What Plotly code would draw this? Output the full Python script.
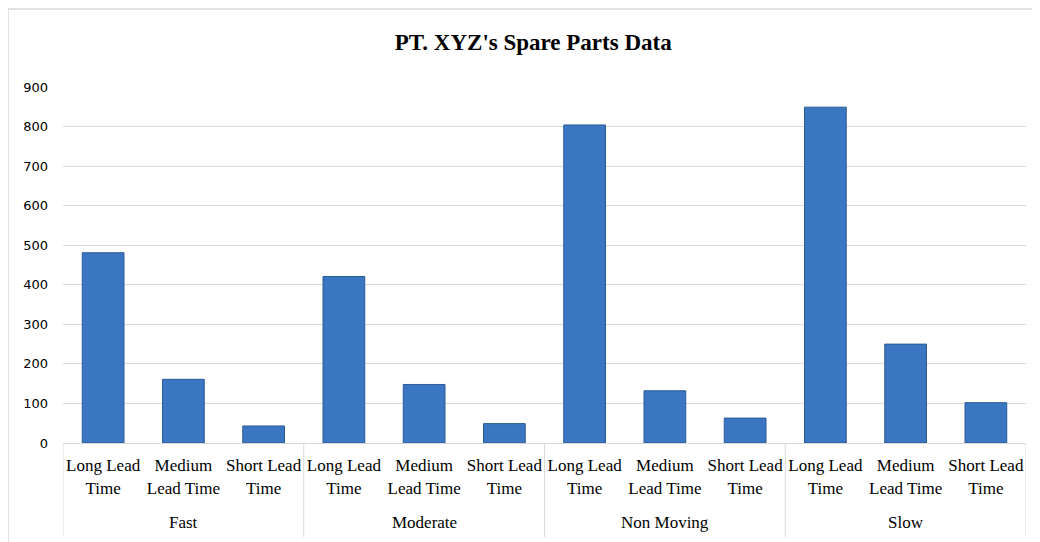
import plotly.graph_objects as go

groups = ["Fast", "Moderate", "Non Moving", "Slow"]
subcats = ["Long Lead<br>Time", "Medium<br>Lead Time", "Short Lead<br>Time"]
values = [481, 161, 43,
          421, 148, 49,
          804, 132, 63,
          849, 250, 102]
y_ticks = [0, 100, 200, 300, 400, 500, 600, 700, 800, 900]

n_sub = len(subcats)
x_pos = list(range(len(groups) * n_sub))
tick_text = [subcats[i % n_sub] for i in x_pos]

fig = go.Figure()
fig.add_trace(go.Bar(
    x=x_pos, y=values, width=0.52,
    marker=dict(color="#3A76C2", line=dict(color="#2C5A96", width=1)),
    showlegend=False,
))

serif = "Liberation Serif, Times New Roman, serif"

# plot area: x 63..1026, y 87..443 in page pixels (body margin 8px)
shapes = []
for k in range(len(groups) + 1):
    xv = k * n_sub - 0.5
    shapes.append(dict(type="line", xref="x", yref="paper", x0=xv, x1=xv,
                       y0=0, y1=-0.264, line=dict(color="#D9D9D9", width=1)))
shapes.append(dict(type="rect", xref="paper", yref="paper",
                   x0=-0.0571, x1=1.05, y0=-0.35, y1=1.219,
                   line=dict(color="#D9D9D9", width=1.5), layer="below"))

annotations = []
for gi, g in enumerate(groups):
    annotations.append(dict(x=gi * n_sub + 1, y=-0.2247, xref="x", yref="paper",
                            text=g, showarrow=False, yanchor="middle",
                            font=dict(family=serif, size=17, color="#000000")))

fig.update_layout(
    width=1040, height=542,
    margin=dict(l=55, r=22, t=79, b=107),
    paper_bgcolor="white", plot_bgcolor="white",
    title=dict(text="<b>PT. XYZ's Spare Parts Data</b>", x=0.505, xanchor="center",
               y=1 - 34 / 542, yanchor="middle",
               font=dict(family=serif, size=23, color="#000000")),
    xaxis=dict(tickmode="array", tickvals=x_pos, ticktext=tick_text,
               range=[-0.5, len(x_pos) - 0.5], showgrid=False,
               showline=True, linecolor="#D9D9D9", linewidth=1,
               ticks="", tickfont=dict(family=serif, size=17, color="#000000"),
               ticklabelstandoff=7, zeroline=False),
    yaxis=dict(range=[0, 900], tickmode="array", tickvals=y_ticks,
               showgrid=True, gridcolor="#D9D9D9", gridwidth=1,
               zeroline=False, showline=False, ticks="",
               ticklabelstandoff=14,
               tickfont=dict(family="DejaVu Sans, sans-serif", size=13, color="#000000")),
    shapes=shapes, annotations=annotations,
    bargap=0.48,
)

fig.write_html("out.html")
